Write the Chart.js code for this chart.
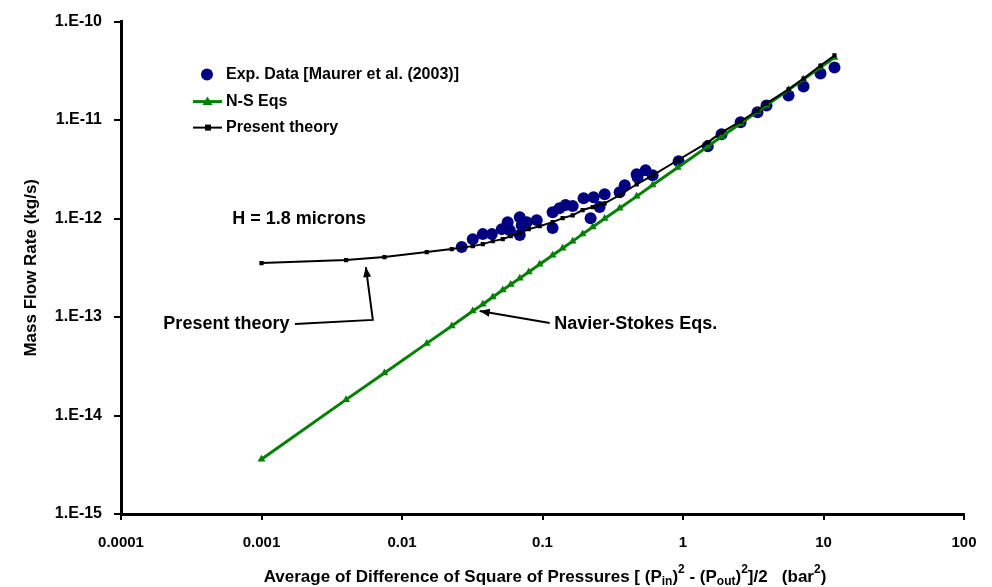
<!DOCTYPE html>
<html>
<head>
<meta charset="utf-8">
<script src="https://cdn.jsdelivr.net/npm/chart.js@4.4.1/dist/chart.umd.min.js"></script>
<style>
  html, body { margin: 0; padding: 0; background: #fff; }
  #wrap { width: 992px; height: 587px; position: relative; }
</style>
</head>
<body>
<div id="wrap"><canvas id="c" width="992" height="587"></canvas></div>
<script>
// ---- Data ----
const expX = [0.0266, 0.0319, 0.0376, 0.0436, 0.0513, 0.0565, 0.0585, 0.0689, 0.0711, 0.0689, 0.0773, 0.091, 0.118, 0.118, 0.132, 0.146, 0.164, 0.196, 0.231, 0.220, 0.255, 0.277, 0.354, 0.385, 0.468, 0.542, 0.475, 0.608, 0.931, 1.50, 1.88, 2.57, 3.39, 3.93, 5.64, 7.21, 9.52, 11.97];
const expY = [5.13e-13, 6.18e-13, 6.95e-13, 6.95e-13, 7.81e-13, 9.2e-13, 7.62e-13, 1.03e-12, 8.57e-13, 6.79e-13, 9.2e-13, 9.64e-13, 1.16e-12, 8.0e-13, 1.27e-12, 1.37e-12, 1.34e-12, 1.61e-12, 1.65e-12, 1.01e-12, 1.31e-12, 1.77e-12, 1.85e-12, 2.18e-12, 2.82e-12, 3.09e-12, 2.63e-12, 2.75e-12, 3.82e-12, 5.42e-12, 7.16e-12, 9.48e-12, 1.20e-11, 1.41e-11, 1.78e-11, 2.19e-11, 2.97e-11, 3.42e-11];

const nsX = [0.001, 0.004, 0.0075, 0.015, 0.0226, 0.0319, 0.0376, 0.0443, 0.0521, 0.0594, 0.0689, 0.0798, 0.0955, 0.118, 0.139, 0.164, 0.193, 0.228, 0.277, 0.354, 0.468, 0.608, 0.917, 1.50, 1.88, 2.57, 3.39, 3.93, 5.64, 7.21, 9.52, 11.97];
const nsY = [3.6e-15, 1.45e-14, 2.7e-14, 5.4e-14, 8.1e-14, 1.15e-13, 1.35e-13, 1.6e-13, 1.88e-13, 2.14e-13, 2.48e-13, 2.87e-13, 3.44e-13, 4.25e-13, 5.0e-13, 5.9e-13, 6.95e-13, 8.2e-13, 1.0e-12, 1.27e-12, 1.68e-12, 2.19e-12, 3.3e-12, 5.4e-12, 6.8e-12, 9.25e-12, 1.22e-11, 1.41e-11, 2.03e-11, 2.6e-11, 3.43e-11, 4.31e-11];

const ptX = [0.001, 0.004, 0.0075, 0.015, 0.0226, 0.0319, 0.0376, 0.0443, 0.0521, 0.0594, 0.0689, 0.0798, 0.0955, 0.118, 0.139, 0.164, 0.193, 0.228, 0.277, 0.354, 0.468, 0.608, 0.917, 1.50, 1.88, 2.57, 3.39, 3.93, 5.64, 7.21, 9.52, 11.97];
const ptY = [3.53e-13, 3.79e-13, 4.06e-13, 4.57e-13, 4.9e-13, 5.25e-13, 5.5e-13, 5.9e-13, 6.18e-13, 6.63e-13, 7.11e-13, 7.81e-13, 8.37e-13, 9.2e-13, 1.01e-12, 1.08e-12, 1.22e-12, 1.31e-12, 1.43e-12, 1.73e-12, 2.23e-12, 2.75e-12, 3.91e-12, 5.94e-12, 7.5e-12, 9.7e-12, 1.25e-11, 1.48e-11, 2.05e-11, 2.64e-11, 3.58e-11, 4.53e-11];

const xTickValues = [0.0001, 0.001, 0.01, 0.1, 1, 10, 100];
const xTickLabels = ['0.0001', '0.001', '0.01', '0.1', '1', '10', '100'];
const yTickValues = [1e-15, 1e-14, 1e-13, 1e-12, 1e-11, 1e-10];
const yTickLabels = ['1.E-15', '1.E-14', '1.E-13', '1.E-12', '1.E-11', '1.E-10'];

const seriesNames = ['Exp. Data [Maurer et al. (2003)]', 'N-S Eqs', 'Present theory'];

const FONT = '"Liberation Sans", Arial, Helvetica, sans-serif';
const BLUE = '#000080';
const GREEN = '#008000';

function pts(xs, ys) { return xs.map((x, i) => ({ x: x, y: ys[i] })); }
function labelFor(v, vals, labels) {
  for (let i = 0; i < vals.length; i++) {
    if (Math.abs(Math.log10(v) - Math.log10(vals[i])) < 1e-6) return labels[i];
  }
  return '';
}

function arrowHead(ctx, x1, y1, x2, y2, len, half) {
  const a = Math.atan2(y2 - y1, x2 - x1);
  ctx.beginPath();
  ctx.moveTo(x2, y2);
  ctx.lineTo(x2 - len * Math.cos(a) + half * Math.sin(a), y2 - len * Math.sin(a) - half * Math.cos(a));
  ctx.lineTo(x2 - len * Math.cos(a) - half * Math.sin(a), y2 - len * Math.sin(a) + half * Math.cos(a));
  ctx.closePath();
  ctx.fill();
}

const overlay = {
  id: 'overlay',
  afterDraw(chart) {
    const ctx = chart.ctx;
    const xs = chart.scales.x, ys = chart.scales.y;
    const X = v => xs.getPixelForValue(v), Y = v => ys.getPixelForValue(v);
    const ca = chart.chartArea;
    ctx.save();
    ctx.fillStyle = '#000';
    ctx.strokeStyle = '#000';
    ctx.textBaseline = 'middle';

    // Legend (inside plot area, top-left)
    const lx = ca.left + 72, tx = ca.left + 105;
    const rows = [ca.top + 53, ca.top + 80, ca.top + 106];
    ctx.font = 'bold 16px ' + FONT;
    // row 1: blue circle
    ctx.fillStyle = BLUE;
    ctx.beginPath(); ctx.arc(ca.left + 86, rows[0], 6, 0, Math.PI * 2); ctx.fill();
    // row 2: green line + triangle
    ctx.strokeStyle = GREEN; ctx.lineWidth = 3;
    ctx.beginPath(); ctx.moveTo(lx, rows[1]); ctx.lineTo(lx + 29, rows[1]); ctx.stroke();
    ctx.fillStyle = GREEN;
    ctx.beginPath(); ctx.moveTo(lx + 14.5, rows[1] - 5); ctx.lineTo(lx + 19.5, rows[1] + 3.5); ctx.lineTo(lx + 9.5, rows[1] + 3.5); ctx.closePath(); ctx.fill();
    // row 3: black line + square
    ctx.strokeStyle = '#000'; ctx.lineWidth = 2;
    ctx.beginPath(); ctx.moveTo(lx, rows[2]); ctx.lineTo(lx + 29, rows[2]); ctx.stroke();
    ctx.fillStyle = '#000';
    ctx.fillRect(lx + 12, rows[2] - 3, 6, 6);
    ctx.fillStyle = '#000';
    ctx.textAlign = 'left';
    ctx.fillText(seriesNames[0], tx, rows[0]);
    ctx.fillText(seriesNames[1], tx, rows[1]);
    ctx.fillText(seriesNames[2], tx, rows[2]);

    // Annotation: H = 1.8 microns
    ctx.font = 'bold 18px ' + FONT;
    ctx.fillText('H = 1.8 microns', X(0.00062), Y(1.0e-12));

    // Annotation: Present theory with bent arrow
    ctx.font = 'bold 18px ' + FONT;
    ctx.textAlign = 'right';
    ctx.fillText('Present theory', X(0.00158), Y(8.4e-14));
    ctx.lineWidth = 2;
    const p0 = [X(0.00173), Y(8.5e-14)], p1 = [X(0.0062), Y(9.35e-14)], p2 = [X(0.00553), Y(3.22e-13)];
    ctx.beginPath(); ctx.moveTo(p0[0], p0[1]); ctx.lineTo(p1[0], p1[1]); ctx.lineTo(p2[0], p2[1]); ctx.stroke();
    arrowHead(ctx, p1[0], p1[1], p2[0], p2[1], 10, 4);

    // Annotation: Navier-Stokes Eqs.
    ctx.textAlign = 'left';
    ctx.fillText('Navier-Stokes Eqs.', X(0.121), Y(8.4e-14));
    const q0 = [X(0.1125), Y(8.7e-14)], q1 = [X(0.0357), Y(1.15e-13)];
    ctx.beginPath(); ctx.moveTo(q0[0], q0[1]); ctx.lineTo(q1[0], q1[1]); ctx.stroke();
    arrowHead(ctx, q0[0], q0[1], q1[0], q1[1], 10, 4);

    // Y axis title
    ctx.save();
    ctx.font = 'bold 17px ' + FONT;
    ctx.textAlign = 'center';
    ctx.translate(31, (ca.top + ca.bottom) / 2);
    ctx.rotate(-Math.PI / 2);
    ctx.fillText('Mass Flow Rate (kg/s)', 0, 0);
    ctx.restore();

    // X axis title with sub/superscripts
    const segs = [
      { t: 'Average of Difference of Square of Pressures [ (P', k: 'n' },
      { t: 'in', k: 'sub' },
      { t: ')', k: 'n' },
      { t: '2', k: 'sup' },
      { t: ' - (P', k: 'n' },
      { t: 'out', k: 'sub' },
      { t: ')', k: 'n' },
      { t: '2', k: 'sup' },
      { t: ']/2   (bar', k: 'n' },
      { t: '2', k: 'sup' },
      { t: ')', k: 'n' }
    ];
    const bigF = 'bold 17px ' + FONT, smallF = 'bold 12px ' + FONT;
    let total = 0;
    segs.forEach(s => { ctx.font = s.k === 'n' ? bigF : smallF; s.w = ctx.measureText(s.t).width; total += s.w; });
    let cx = 545 - total / 2;
    const base = 577;
    ctx.textAlign = 'left';
    ctx.textBaseline = 'middle';
    segs.forEach(s => {
      ctx.font = s.k === 'n' ? bigF : smallF;
      const dy = s.k === 'sub' ? 5 : (s.k === 'sup' ? -7 : 0);
      ctx.fillText(s.t, cx, base + dy);
      cx += s.w;
    });
    ctx.restore();
  }
};

new Chart(document.getElementById('c'), {
  type: 'scatter',
  data: {
    datasets: [
      {
        label: seriesNames[0], data: pts(expX, expY), showLine: false,
        pointStyle: 'circle', pointRadius: 6, pointHoverRadius: 6,
        backgroundColor: BLUE, borderColor: BLUE, borderWidth: 0, order: 3
      },
      {
        label: seriesNames[1], data: pts(nsX, nsY), showLine: true,
        borderColor: GREEN, borderWidth: 3, backgroundColor: GREEN,
        pointStyle: 'triangle', pointRadius: 4.5, pointBorderWidth: 0, pointBackgroundColor: GREEN, order: 2
      },
      {
        label: seriesNames[2], data: pts(ptX, ptY), showLine: true,
        borderColor: '#000', borderWidth: 2, backgroundColor: '#000', tension: 0,
        pointStyle: 'rect', pointRadius: 3, pointBorderWidth: 0, pointBackgroundColor: '#000', order: 1
      }
    ]
  },
  options: {
    responsive: false,
    animation: false,
    events: [],
    layout: { padding: { left: 0, top: 19, right: 28, bottom: 0 } },
    plugins: { legend: { display: false }, tooltip: { enabled: false }, title: { display: false } },
    scales: {
      x: {
        type: 'logarithmic', min: 0.0001, max: 100,
        afterBuildTicks: s => { s.ticks = xTickValues.map(v => ({ value: v })); },
        afterFit: s => { s.height = 73; },
        ticks: {
          autoSkip: false, maxRotation: 0, color: '#000', padding: 14,
          font: { family: FONT, weight: 'bold', size: 15 },
          callback: v => labelFor(v, xTickValues, xTickLabels)
        },
        grid: { drawOnChartArea: false, drawTicks: true, tickLength: 6, color: '#000', lineWidth: 2 },
        border: { display: true, color: '#000', width: 3 }
      },
      y: {
        type: 'logarithmic', min: 1e-15, max: 1e-10,
        afterBuildTicks: s => { s.ticks = yTickValues.map(v => ({ value: v })); },
        afterFit: s => { s.width = 121; },
        ticks: {
          autoSkip: false, color: '#000', padding: 12,
          font: { family: FONT, weight: 'bold', size: 16 },
          callback: v => labelFor(v, yTickValues, yTickLabels)
        },
        grid: { drawOnChartArea: false, drawTicks: true, tickLength: 7, color: '#000', lineWidth: 2 },
        border: { display: true, color: '#000', width: 3 }
      }
    }
  },
  plugins: [overlay]
});
</script>
</body>
</html>
